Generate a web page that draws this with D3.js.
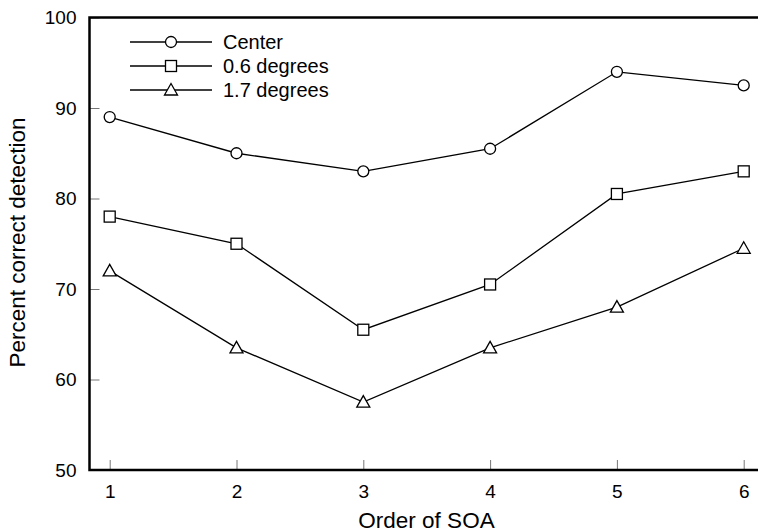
<!DOCTYPE html>
<html>
<head>
<meta charset="utf-8">
<script src="https://cdn.jsdelivr.net/npm/d3@7"></script>
<style>
  body { margin: 0; background: #fff; }
  svg { display: block; font-family: "Liberation Sans", Arial, sans-serif; }
</style>
</head>
<body>
<div id="figure"><svg></svg></div>
<script>
// Data
var order = [1, 2, 3, 4, 5, 6];
var center = [89, 85, 83, 85.5, 94, 92.5];
var deg06 = [78, 75, 65.5, 70.5, 80.5, 83];
var deg17 = [72, 63.5, 57.5, 63.5, 68, 74.5];
var seriesNames = ["Center", "0.6 degrees", "1.7 degrees"];
var seriesShapes = ["circle", "square", "triangle"];
var yTicks = [50, 60, 70, 80, 90, 100];

var width = 758, height = 532;
var g = d3.select("#figure").select("svg").attr("width", width).attr("height", height);

var x = d3.scaleLinear().domain([1, 6]).range([109.7, 743.7]);
var y = d3.scaleLinear().domain([50, 100]).range([470, 17.5]);
var left = 89.5, right = 760;

// ticks (inward, thin gray)
var yAxis = d3.axisLeft(y).tickValues(yTicks).tickSizeInner(-10).tickSizeOuter(0).tickPadding(13);
var gy = g.append("g").attr("transform", "translate(" + left + ",0)").call(yAxis);
gy.select(".domain").remove();
gy.selectAll(".tick line").attr("stroke", "#777").attr("stroke-width", 1);
gy.selectAll(".tick text").attr("font-size", 19).attr("fill", "#000").attr("font-family", "Liberation Sans, Arial, sans-serif");

var xAxis = d3.axisBottom(x).tickValues(order).tickFormat(d3.format("d"))
  .tickSizeInner(-10).tickSizeOuter(0).tickPadding(15);
var gx = g.append("g").attr("transform", "translate(0," + y(50) + ")").call(xAxis);
gx.select(".domain").remove();
gx.selectAll(".tick line").attr("stroke", "#777").attr("stroke-width", 1);
gx.selectAll(".tick text").attr("font-size", 19).attr("fill", "#000").attr("font-family", "Liberation Sans, Arial, sans-serif");

// frame (left, top, bottom)
g.append("path")
  .attr("d", "M" + right + "," + y(100) + "H" + left + "V" + y(50) + "H" + right)
  .attr("fill", "none").attr("stroke", "#000").attr("stroke-width", 2.5);

// axis titles
g.append("text").attr("x", 426.5).attr("y", 528)
  .attr("text-anchor", "middle").attr("font-size", 22.5).text("Order of SOA");
g.append("text").attr("transform", "translate(25," + 242.5 + ") rotate(-90)")
  .attr("text-anchor", "middle").attr("font-size", 22.5).text("Percent correct detection");

function drawMarker(sel, shape, cx, cy) {
  if (shape == "circle") {
    sel.append("circle").attr("cx", cx).attr("cy", cy).attr("r", 5.5);
  } else if (shape == "square") {
    sel.append("rect").attr("x", cx - 5.5).attr("y", cy - 5.5).attr("width", 11).attr("height", 11);
  } else {
    sel.append("path").attr("d", "M" + cx + "," + (cy - 6.5) + "L" + (cx + 6.5) + "," + (cy + 5) + "L" + (cx - 6.5) + "," + (cy + 5) + "Z");
  }
}

var allSeries = [center, deg06, deg17];
var line = d3.line().x(function (d, i) { return x(order[i]); }).y(function (d) { return y(d); });

allSeries.forEach(function (vals, k) {
  g.append("path").datum(vals).attr("d", line)
    .attr("fill", "none").attr("stroke", "#000").attr("stroke-width", 1.3);
  var mg = g.append("g").attr("fill", "#fff").attr("stroke", "#000").attr("stroke-width", 1.3);
  vals.forEach(function (v, i) { drawMarker(mg, seriesShapes[k], x(order[i]), y(v)); });
});

// legend
var legY = [42, 66, 90];
seriesNames.forEach(function (name, k) {
  g.append("line").attr("x1", 130).attr("x2", 212).attr("y1", legY[k]).attr("y2", legY[k])
    .attr("stroke", "#000").attr("stroke-width", 1.3);
  var mg = g.append("g").attr("fill", "#fff").attr("stroke", "#000").attr("stroke-width", 1.3);
  drawMarker(mg, seriesShapes[k], 171, legY[k]);
  g.append("text").attr("x", 223).attr("y", legY[k] + 7).attr("font-size", 20).text(name);
});
</script>
</body>
</html>
